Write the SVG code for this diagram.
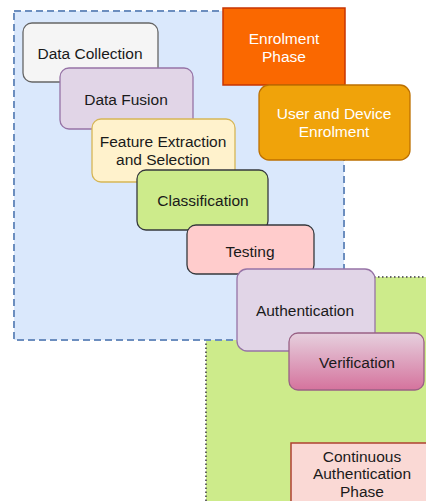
<svg xmlns="http://www.w3.org/2000/svg" width="426" height="501" viewBox="0 0 426 501">
  <style>
    text { font-family: "Liberation Sans", Arial, sans-serif; font-size: 15.5px; text-anchor: middle; dominant-baseline: central; fill: #1a1a1a; }
    .light { fill: #ffffff; }
    .step { stroke-width: 1.3; }
  </style>
  <defs>
    <linearGradient id="verifGrad" x1="0" y1="0" x2="0" y2="1">
      <stop offset="0" stop-color="#e6d0de"/>
      <stop offset="1" stop-color="#d5739d"/>
    </linearGradient>
  </defs>

  <!-- phase areas -->
  <g id="continuous-area">
    <rect x="206" y="277" width="240" height="240" fill="#cdeb8b" stroke="#666666" stroke-width="2" stroke-dasharray="1.5 2.5"/>
  </g>
  <g id="enrolment-area">
    <rect x="14" y="11" width="330" height="329" fill="#dae8fc" stroke="#6c8ebf" stroke-width="2" stroke-dasharray="7 4"/>
  </g>

  <!-- process steps -->
  <g id="data-collection">
    <rect class="step" x="23" y="23" width="135" height="59" rx="9" fill="#f5f5f5" stroke="#666666"/>
    <text x="90" y="53">Data Collection</text>
  </g>
  <g id="data-fusion">
    <rect class="step" x="60" y="68" width="133" height="61" rx="9" fill="#e1d5e7" stroke="#9673a6"/>
    <text x="126" y="99">Data Fusion</text>
  </g>
  <g id="feature-extraction">
    <rect class="step" x="92" y="119" width="143" height="63" rx="9" fill="#fff2cc" stroke="#d6b656"/>
    <text x="163" y="141">Feature Extraction</text>
    <text x="163" y="159">and Selection</text>
  </g>
  <g id="classification">
    <rect class="step" x="137" y="170" width="131" height="60" rx="9" fill="#cdeb8b" stroke="#36393d"/>
    <text x="203" y="200">Classification</text>
  </g>
  <g id="testing">
    <rect class="step" x="187" y="225" width="127" height="49" rx="9" fill="#ffcccc" stroke="#36393d"/>
    <text x="250" y="251">Testing</text>
  </g>
  <g id="authentication">
    <rect class="step" x="237" y="269" width="138" height="82" rx="10" fill="#e1d5e7" stroke="#9673a6"/>
    <text x="305" y="310">Authentication</text>
  </g>
  <g id="verification">
    <rect class="step" x="289" y="333" width="135" height="57" rx="9" fill="url(#verifGrad)" stroke="#996185"/>
    <text x="357" y="362">Verification</text>
  </g>

  <!-- phase labels -->
  <g id="enrolment-phase">
    <rect x="223" y="8" width="122" height="77" fill="#fa6800" stroke="#c73500" stroke-width="1.5"/>
    <text class="light" x="284" y="38">Enrolment</text>
    <text class="light" x="284" y="56">Phase</text>
  </g>
  <g id="user-device-enrolment">
    <rect class="step" x="259" y="85" width="151" height="75" rx="10" fill="#f0a30a" stroke="#bd7000"/>
    <text class="light" x="334" y="113">User and Device</text>
    <text class="light" x="334" y="131">Enrolment</text>
  </g>
  <g id="continuous-phase">
    <rect x="291" y="443" width="150" height="80" fill="#fad9d5" stroke="#ae4132" stroke-width="1.5"/>
    <text x="362" y="456">Continuous</text>
    <text x="362" y="473.5">Authentication</text>
    <text x="362" y="491">Phase</text>
  </g>

  <g id="connectors"></g>
</svg>
